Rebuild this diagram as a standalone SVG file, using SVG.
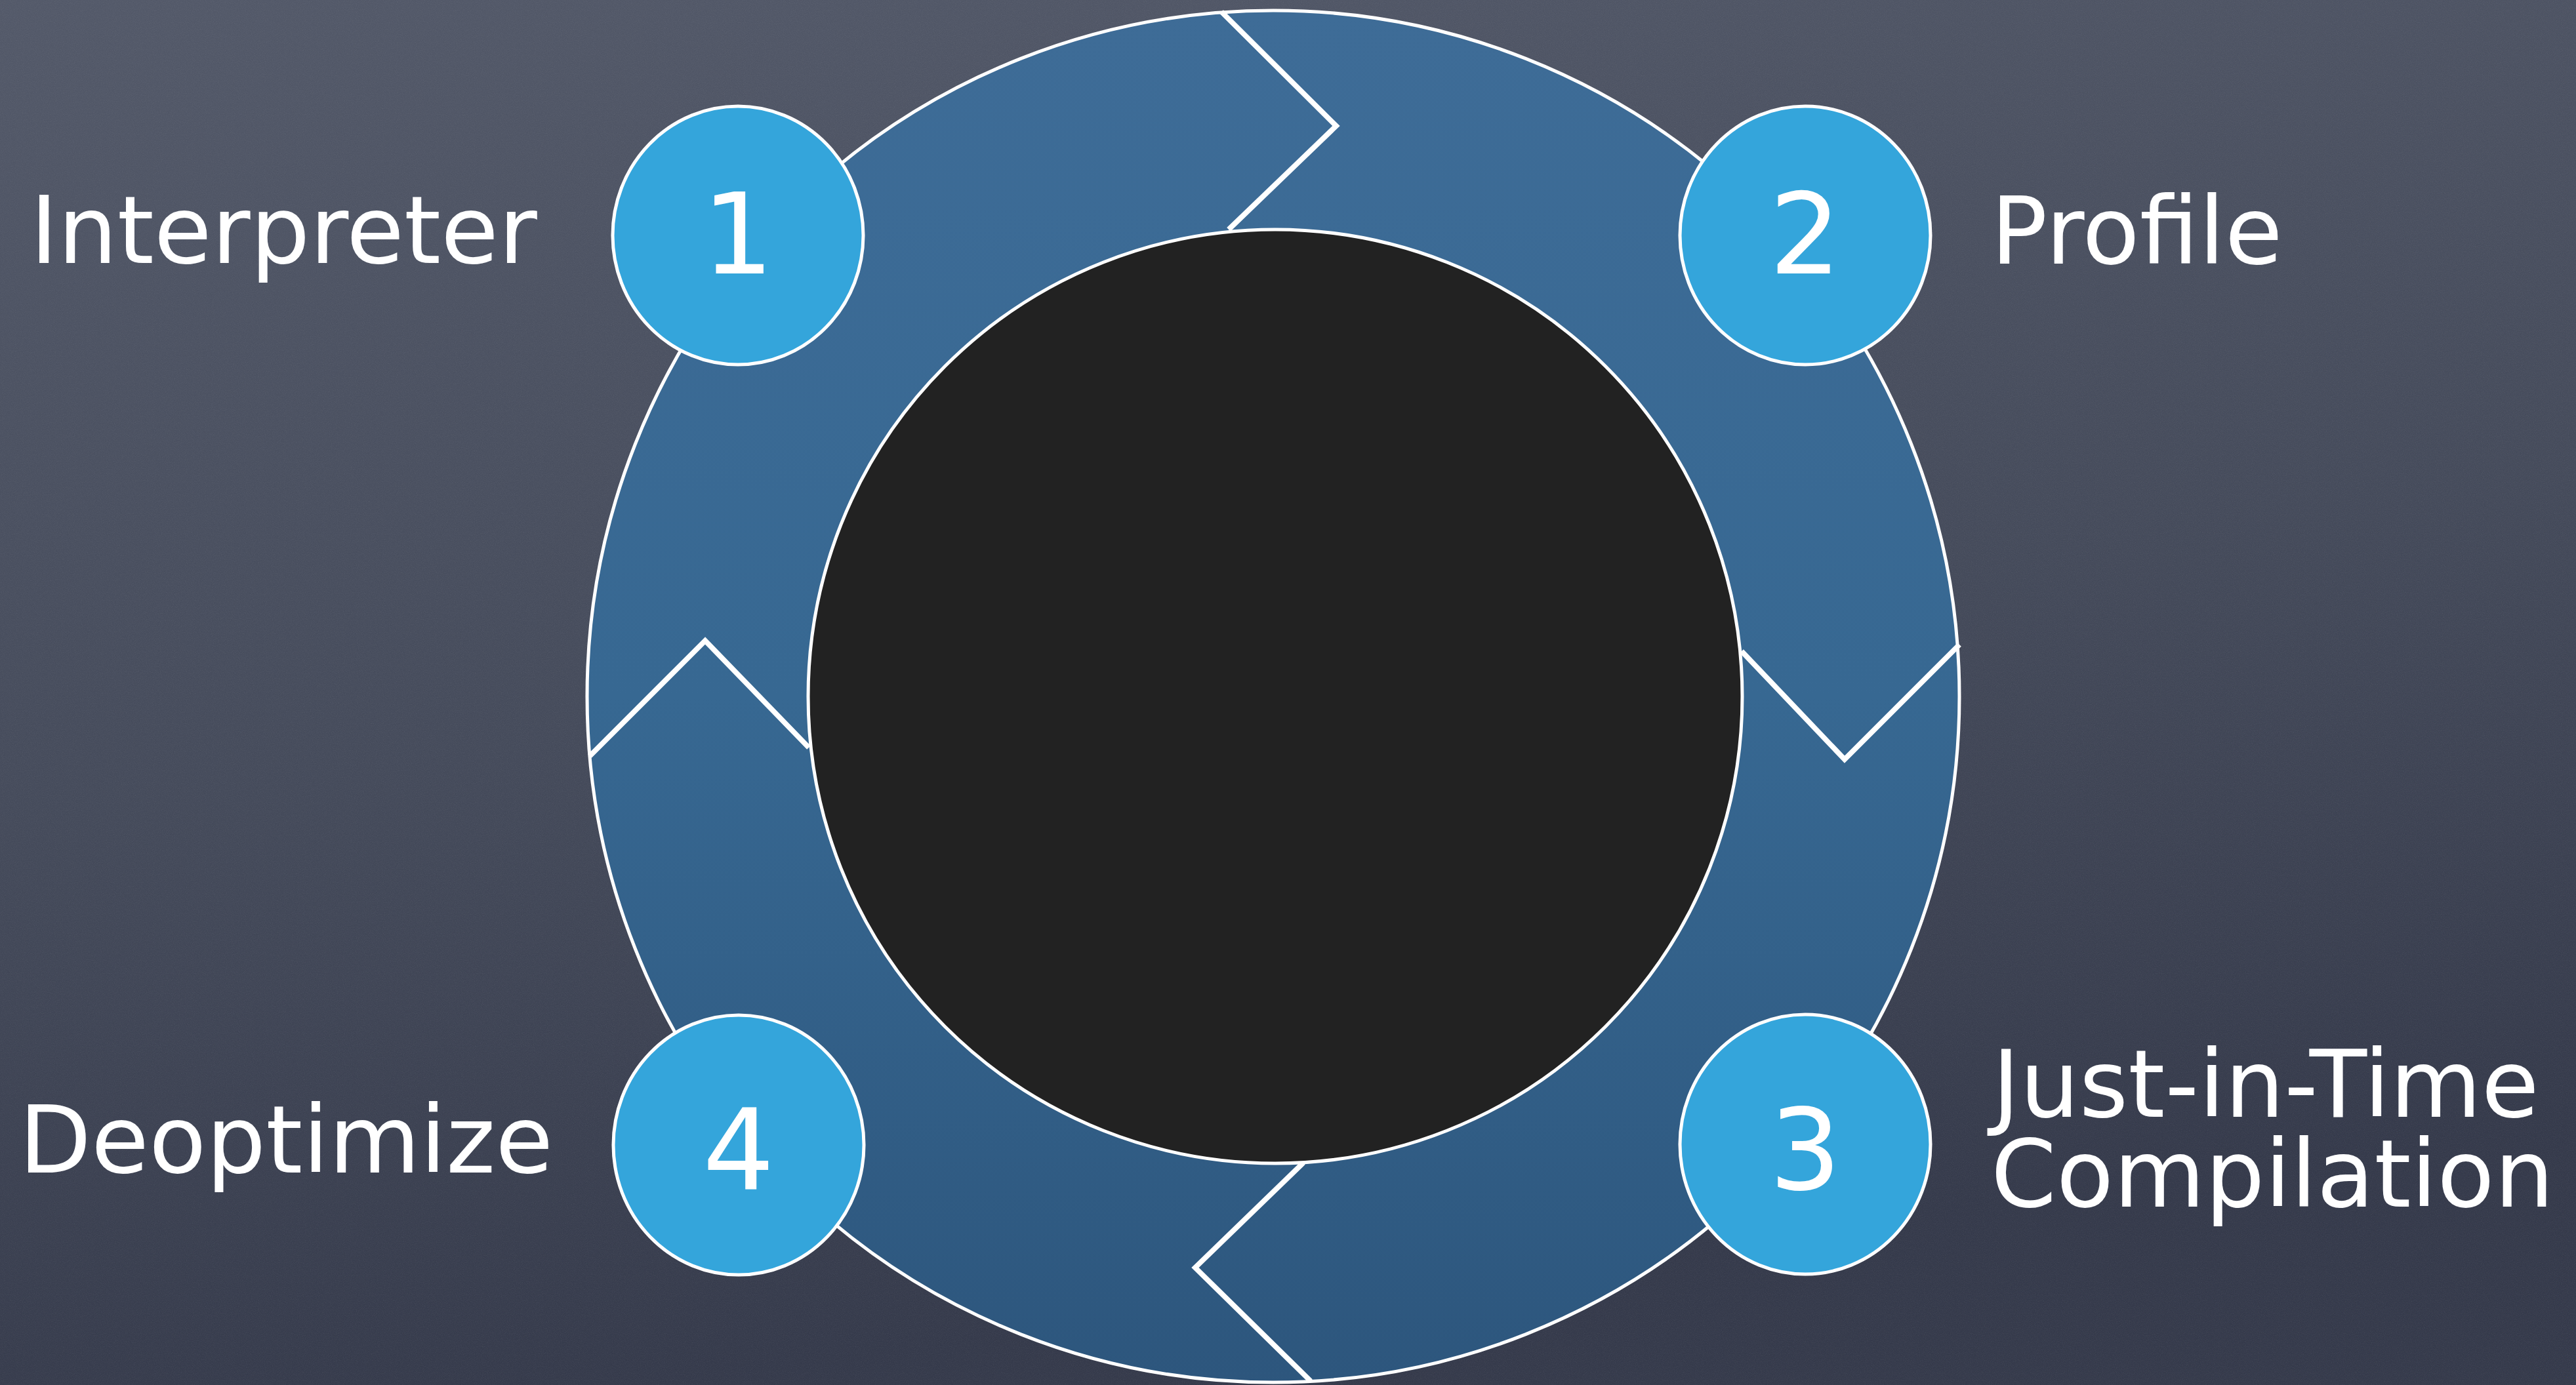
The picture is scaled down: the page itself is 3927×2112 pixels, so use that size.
<svg xmlns="http://www.w3.org/2000/svg" width="3927" height="2112" viewBox="0 0 3927 2112">
  <defs>
    <linearGradient id="bg" x1="0" y1="0" x2="0.25" y2="1">
      <stop offset="0" stop-color="#535969"/>
      <stop offset="0.55" stop-color="#454b5b"/>
      <stop offset="1" stop-color="#353a4b"/>
    </linearGradient>
    <linearGradient id="ringfill" x1="0" y1="0" x2="0" y2="1">
      <stop offset="0" stop-color="#3e6c97"/>
      <stop offset="0.5" stop-color="#376892"/>
      <stop offset="1" stop-color="#2d567d"/>
    </linearGradient>
    <filter id="grain" x="0" y="0" width="100%" height="100%">
      <feTurbulence type="fractalNoise" baseFrequency="0.9" numOctaves="2" seed="3" result="n"/>
      <feColorMatrix type="matrix" values="0 0 0 0 1  0 0 0 0 1  0 0 0 0 1  0 0 0 0.9 -0.35"/>
    </filter>
    <style>
      .label { font-family: "DejaVu Sans", "Liberation Sans", sans-serif; font-size: 143px; fill: #ffffff; }
      .num { font-family: "DejaVu Sans", "Liberation Sans", sans-serif; font-size: 172px; fill: #ffffff; text-anchor: middle; }
      .badge { fill: #34a5db; stroke: #ffffff; stroke-width: 5; }
      .chev { fill: none; stroke: #ffffff; stroke-width: 8; stroke-linejoin: miter; stroke-linecap: butt; }
      .edge { fill: none; stroke: #ffffff; stroke-width: 5; }
    </style>
  </defs>

  <rect width="3927" height="2112" fill="url(#bg)"/>
  <rect width="3927" height="2112" filter="url(#grain)" opacity="0.12"/>

  <g id="cycle">
    <path d="M 895 1062 A 1046 1046 0 1 0 2987 1062 A 1046 1046 0 1 0 895 1062 Z M 1232 1062 A 712 712 0 1 0 2656 1062 A 712 712 0 1 0 1232 1062 Z" fill="url(#ringfill)" fill-rule="evenodd"/>
  </g>

  <g id="connectors">
    <polyline class="chev" points="1862,18 2037,192 1873,350"/>
    <polyline class="chev" points="2655,993 2812,1158 2987,983"/>
    <polyline class="chev" points="1987,1773 1822,1933 1998,2106"/>
    <polyline class="chev" points="899,1153 1075,977 1233,1140"/>
  </g>

  <g id="ring-outline">
    <circle class="edge" cx="1941" cy="1062" r="1046"/>
  </g>

  <g id="center">
    <circle cx="1944" cy="1062" r="712" fill="#222222" stroke="#ffffff" stroke-width="5"/>
  </g>

  <g id="node-1">
    <ellipse class="badge" cx="1125" cy="359" rx="191" ry="197"/>
    <text class="num" x="1125" y="417">1</text>
    <text class="label" x="46" y="401">Interpreter</text>
  </g>

  <g id="node-2">
    <ellipse class="badge" cx="2752" cy="359" rx="191" ry="197"/>
    <text class="num" x="2752" y="417">2</text>
    <text class="label" x="3035" y="402">Profile</text>
  </g>

  <g id="node-3">
    <ellipse class="badge" cx="2752" cy="1745" rx="191" ry="198"/>
    <text class="num" x="2752" y="1814">3</text>
    <text class="label" x="3037" y="1703">Just-in-Time</text>
    <text class="label" x="3035" y="1840">Compilation</text>
  </g>

  <g id="node-4">
    <ellipse class="badge" cx="1126" cy="1746" rx="191" ry="198"/>
    <text class="num" x="1126" y="1813">4</text>
    <text class="label" x="29" y="1788">Deoptimize</text>
  </g>
</svg>
